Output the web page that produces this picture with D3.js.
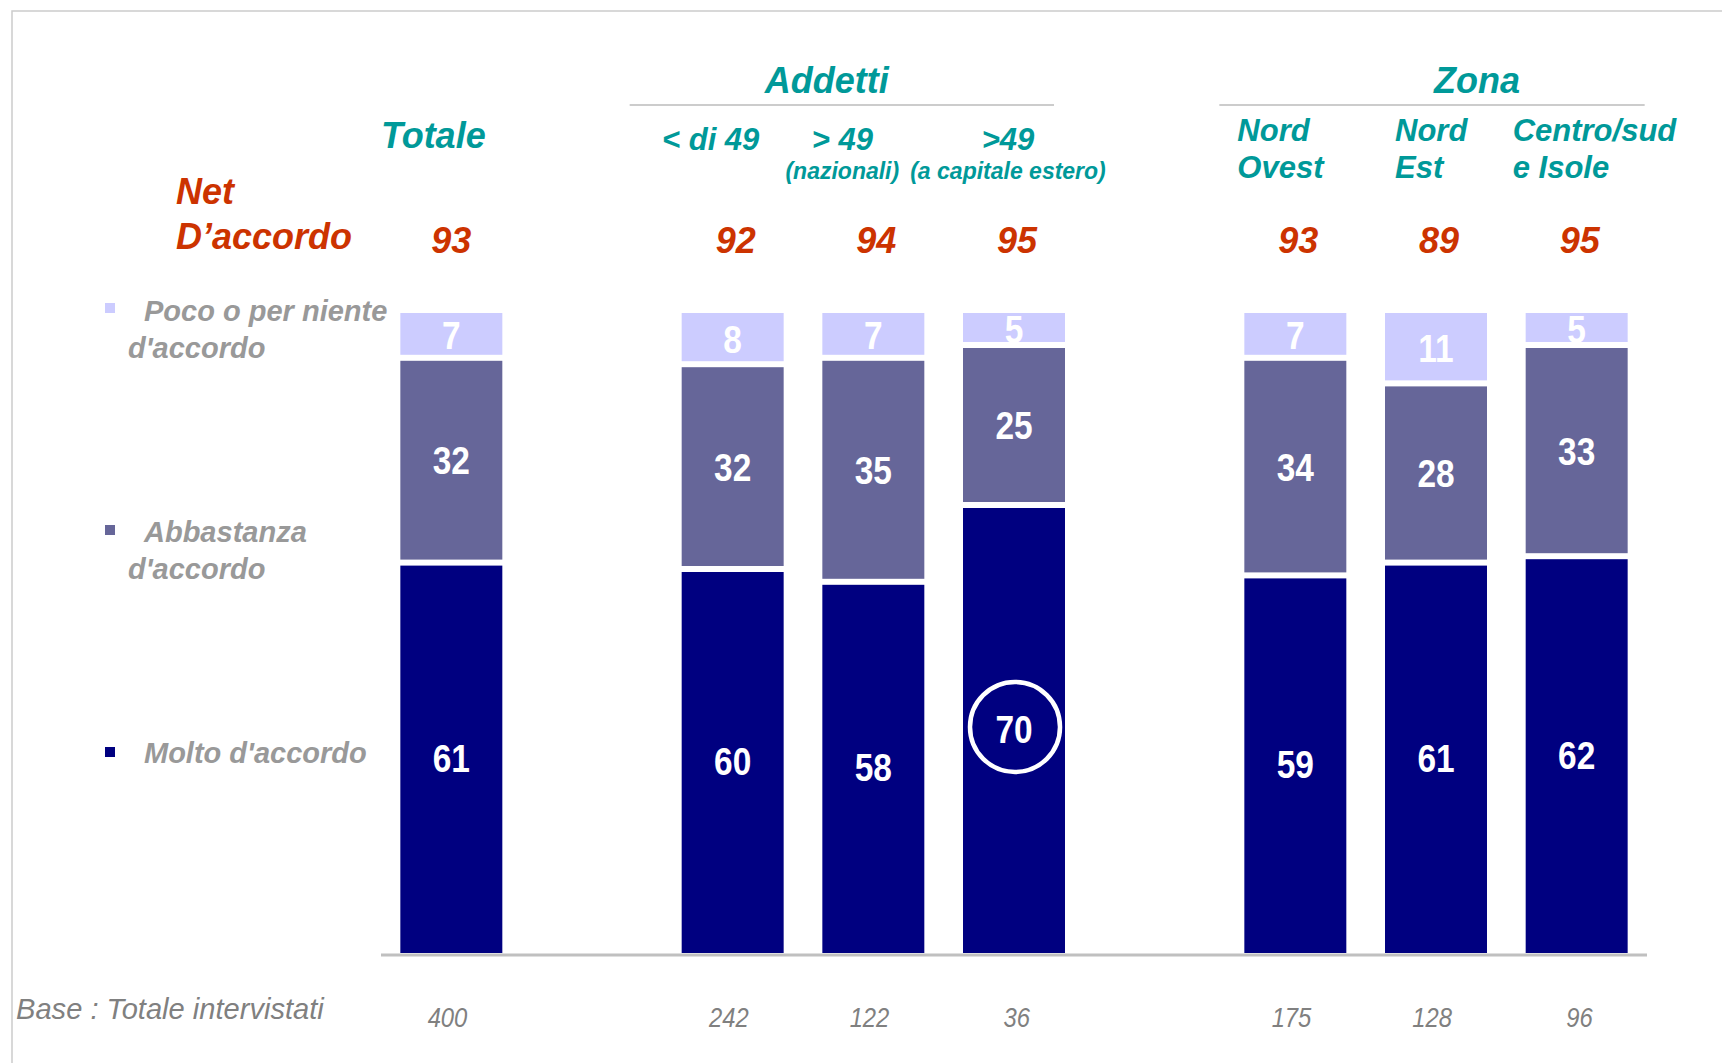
<!DOCTYPE html>
<html>
<head>
<meta charset="utf-8">
<script src="https://cdn.jsdelivr.net/npm/d3@7"></script>
<style>
    body { margin: 0; background: #ffffff; }
    svg { display: block; font-family: "Liberation Sans", Arial, sans-serif; }
</style>
</head>
<body>
<div id="accordo-chart"></div>
<script>
/**
 * Start data
 *  */
var categories = ["Totale", "< di 49", "> 49 (nazionali)", ">49 (a capitale estero)", "Nord Ovest", "Nord Est", "Centro/sud e Isole"];
var groups = ["Totale", "Addetti", "Addetti", "Addetti", "Zona", "Zona", "Zona"];
var molto = [61, 60, 58, 70, 59, 61, 62];
var abbastanza = [32, 32, 35, 25, 34, 28, 33];
var poco = [7, 8, 7, 5, 7, 11, 5];
var netAccordo = [93, 92, 94, 95, 93, 89, 95];
var baseCount = [400, 242, 122, 36, 175, 128, 96];
var seriesNames = ["Molto d'accordo", "Abbastanza d'accordo", "Poco o per niente d'accordo"];
var seriesColors = ["#000080", "#666699", "#ccccff"];
var highlight = ">49 (a capitale estero)";
/**
 * End data
 *  */

drawAccordoChart();

function drawAccordoChart() {
    var width = 1722, height = 1063;
    var teal = "#009999", red = "#cc3300", gray = "#999999";

    var svg = d3.select("#accordo-chart").append("svg")
        .attr("width", width)
        .attr("height", height);

    // slot list: a blank slot between the groups
    var slots = [];
    categories.forEach(function (c, i) {
        if (i > 0 && groups[i] !== groups[i - 1]) slots.push("_gap" + i);
        slots.push(c);
    });

    var x = d3.scaleBand()
        .domain(slots)
        .range([381, 1647])
        .paddingInner(0.275)
        .paddingOuter(0.1375);
    var y = d3.scaleLinear()
        .domain([0, 100])
        .range([953, 313]);
    var bw = x.bandwidth();
    var cx = function (c) { return x(c) + bw / 2; };

    // frame
    svg.append("path")
        .attr("d", "M12," + height + "V11H" + width)
        .attr("fill", "none")
        .attr("stroke", "#cccccc")
        .attr("stroke-width", 1.5);

    // stacked bars
    var rows = categories.map(function (c, i) {
        return { cat: c, molto: molto[i], abbastanza: abbastanza[i], poco: poco[i] };
    });
    var stack = d3.stack().keys(["molto", "abbastanza", "poco"]);
    var layers = stack(rows);

    var layer = svg.selectAll(".layer")
        .data(layers)
        .enter().append("g")
        .attr("class", "layer")
        .attr("fill", function (d, i) { return seriesColors[i]; });

    layer.selectAll("rect")
        .data(function (d, li) { return d.map(function (p) { return { p: p, li: li }; }); })
        .enter().append("rect")
        .attr("x", function (d) { return x(d.p.data.cat); })
        .attr("width", bw)
        .attr("y", function (d) { return y(d.p[1]) + (d.li === 2 ? 0 : 3); })
        .attr("height", function (d) {
            var top = y(d.p[1]) + (d.li === 2 ? 0 : 3);
            var bottom = y(d.p[0]) - (d.li === 0 ? 0 : 3);
            return bottom - top;
        });

    // values, a bit condensed like the original
    layer.selectAll("text")
        .data(function (d, li) { return d.map(function (p) { return { p: p, li: li }; }); })
        .enter().append("text")
        .attr("transform", function (d) {
            var ty = (y(d.p[0]) + y(d.p[1])) / 2 + 14;
            return "translate(" + cx(d.p.data.cat) + "," + ty + ") scale(0.88,1)";
        })
        .attr("text-anchor", "middle")
        .attr("fill", "#ffffff")
        .attr("font-weight", "bold")
        .attr("font-size", "38px")
        .text(function (d) { return d.p[1] - d.p[0]; });

    // circle round the highlighted value
    var hi = categories.indexOf(highlight);
    svg.append("circle")
        .attr("cx", cx(highlight) + 1)
        .attr("cy", (y(0) + y(molto[hi])) / 2 - 2)
        .attr("r", 45)
        .attr("fill", "none")
        .attr("stroke", "#ffffff")
        .attr("stroke-width", 4.5);

    // baseline
    svg.append("line")
        .attr("x1", 381).attr("x2", 1647)
        .attr("y1", 955).attr("y2", 955)
        .attr("stroke", "#c0c0c0")
        .attr("stroke-width", 3);

    // group headers
    var groupInfo = [
        { name: "Addetti", first: categories[1], last: categories[3], l: -52, r: -11, dt: -15 },
        { name: "Zona", first: categories[4], last: categories[6], l: -25, r: 17, dt: 45 }
    ];
    groupInfo.forEach(function (g) {
        var x0 = x(g.first) + g.l, x1 = x(g.last) + bw + g.r;
        svg.append("line")
            .attr("x1", x0).attr("x2", x1)
            .attr("y1", 105).attr("y2", 105)
            .attr("stroke", "#cccccc")
            .attr("stroke-width", 2);
        svg.append("text")
            .attr("x", (x0 + x1) / 2 + g.dt)
            .attr("y", 93)
            .attr("text-anchor", "middle")
            .attr("fill", teal)
            .attr("font-weight", "bold")
            .attr("font-style", "italic")
            .attr("font-size", "36px")
            .text(g.name);
    });

    // column headers
    function header(txt, xx, yy, size, anchor) {
        svg.append("text")
            .attr("x", xx).attr("y", yy)
            .attr("text-anchor", anchor)
            .attr("fill", teal)
            .attr("font-weight", "bold")
            .attr("font-style", "italic")
            .attr("font-size", size)
            .text(txt);
    }
    header("Totale", cx(categories[0]) - 18, 148, "36px", "middle");
    header("< di 49", cx(categories[1]) - 22, 150, "31px", "middle");
    header("> 49", cx(categories[2]) - 31, 150, "31px", "middle");
    header("(nazionali)", cx(categories[2]) - 31, 179, "23px", "middle");
    header(">49", cx(categories[3]) - 6, 150, "31px", "middle");
    header("(a capitale estero)", cx(categories[3]) - 6, 179, "23px", "middle");
    header("Nord", x(categories[4]) - 7, 141, "31px", "start");
    header("Ovest", x(categories[4]) - 7, 178, "31px", "start");
    header("Nord", x(categories[5]) + 10, 141, "31px", "start");
    header("Est", x(categories[5]) + 10, 178, "31px", "start");
    header("Centro/sud", x(categories[6]) - 13, 141, "31px", "start");
    header("e Isole", x(categories[6]) - 13, 178, "31px", "start");

    // net d'accordo
    svg.append("text")
        .attr("x", 176).attr("y", 204)
        .attr("fill", red).attr("font-weight", "bold").attr("font-style", "italic")
        .attr("font-size", "36px")
        .text("Net");
    svg.append("text")
        .attr("x", 176).attr("y", 249)
        .attr("fill", red).attr("font-weight", "bold").attr("font-style", "italic")
        .attr("font-size", "36px")
        .text("D\u2019accordo");
    svg.selectAll(".net")
        .data(netAccordo)
        .enter().append("text")
        .attr("class", "net")
        .attr("x", function (d, i) { return cx(categories[i]) + (i === 0 ? 0 : 3); })
        .attr("y", 253)
        .attr("text-anchor", "middle")
        .attr("fill", red).attr("font-weight", "bold").attr("font-style", "italic")
        .attr("font-size", "36px")
        .text(function (d) { return d; });

    // legend
    var legendY = [
        { sq: 747, lines: [{ t: "Molto d'accordo", x: 144, y: 763 }] },
        { sq: 525, lines: [{ t: "Abbastanza", x: 144, y: 542 }, { t: "d'accordo", x: 128, y: 579 }] },
        { sq: 303, lines: [{ t: "Poco o per niente", x: 144, y: 321 }, { t: "d'accordo", x: 128, y: 358 }] }
    ];
    legendY.forEach(function (l, i) {
        svg.append("rect")
            .attr("x", 105).attr("y", l.sq)
            .attr("width", 10).attr("height", 10)
            .attr("fill", seriesColors[i]);
        l.lines.forEach(function (ln) {
            svg.append("text")
                .attr("x", ln.x).attr("y", ln.y)
                .attr("fill", gray).attr("font-weight", "bold").attr("font-style", "italic")
                .attr("font-size", "29px")
                .text(ln.t);
        });
    });

    // base
    svg.append("text")
        .attr("transform", "translate(16,1019) scale(0.97,1)")
        .attr("fill", "#808080").attr("font-style", "italic")
        .attr("font-size", "30px")
        .text("Base : Totale intervistati");
    svg.selectAll(".base")
        .data(baseCount)
        .enter().append("text")
        .attr("class", "base")
        .attr("transform", function (d, i) {
            return "translate(" + (x(categories[i]) + bw - 35) + ",1027) scale(0.85,1)";
        })
        .attr("text-anchor", "end")
        .attr("fill", "#808080").attr("font-style", "italic")
        .attr("font-size", "28px")
        .text(function (d) { return d; });
}
</script>
</body>
</html>
